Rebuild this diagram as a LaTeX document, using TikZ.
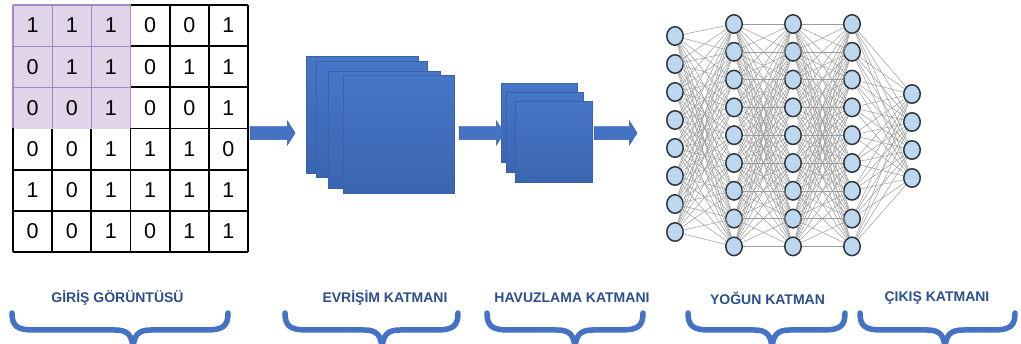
\documentclass[tikz,border=0pt]{standalone}
\usepackage{fontspec}
\setmainfont{Liberation Sans}
\usetikzlibrary{shapes.geometric,shapes.arrows}
\definecolor{boxblue}{HTML}{4472C4}
\definecolor{boxedge}{HTML}{3A62A8}
\definecolor{maptop}{HTML}{4676C6}
\definecolor{mapbot}{HTML}{3B65B0}
\definecolor{gridfill}{HTML}{E0D4E8}
\definecolor{gridline}{HTML}{A888C2}
\definecolor{nodefill}{HTML}{BDD7EE}
\definecolor{nodeedge}{HTML}{2E343C}
\definecolor{linkgray}{HTML}{9C9C9C}
\definecolor{capblue}{HTML}{2B4F8E}

\begin{document}
\begin{tikzpicture}[x=1pt,y=-1pt,
  digit/.style={font=\fontsize{21.5}{21.5}\selectfont,inner sep=0pt},
  map/.style={draw=boxedge,line width=0.6pt,top color=maptop,bottom color=mapbot,anchor=north west,inner sep=0pt},
  blockarrow/.style={single arrow,fill=boxblue,draw=boxedge,line width=0.4pt,inner sep=6.5pt,minimum width=24,single arrow head extend=5.5pt,single arrow tip angle=115},
  neuron/.style={ellipse,draw=nodeedge,line width=1.5pt,fill=nodefill,minimum width=16.5,minimum height=18.5,inner sep=0pt},
  link/.style={draw=linkgray,line width=0.5pt},
  caption/.style={font=\fontsize{14}{14}\selectfont\bfseries,text=capblue,inner sep=0pt},
  brace/.style={draw=boxblue,line width=5.5pt,line cap=round,line join=round}]
\clip (0,0) rectangle (1021,344);
\useasboundingbox (0,0) rectangle (1021,344);

% input image
\fill[gridfill] (13,5) rectangle (130.5,128.5);
\foreach \i in {0,...,6} {
  \draw[line width=1.8pt] (13+39.17*\i,5) -- (13+39.17*\i,252);
  \draw[line width=1.8pt] (13,5+41.17*\i) -- (248,5+41.17*\i);
}
\fill[gridfill] (14,6) rectangle (130,129.5);
\foreach \i in {0,...,3} {
  \draw[gridline,line width=1.3pt] (13+39.17*\i,5) -- (13+39.17*\i,128.5);
}
\foreach \i in {0,...,2} {
  \draw[gridline,line width=1.3pt] (13,5+41.17*\i) -- (130.5,5+41.17*\i);
}
\foreach \row [count=\r] in {{1,1,1,0,0,1},{0,1,1,0,1,1},{0,0,1,0,0,1},{0,0,1,1,1,0},{1,0,1,1,1,1},{0,0,1,0,1,1}} {
  \foreach \v [count=\c] in \row {
    \node[digit] (d-\r-\c) at (13+39.17*\c-19.6,5+41.17*\r-20.6) {\v};
  }
}

% feature maps
\node[map,minimum width=112,minimum height=117] (conv1) at (306,56) {};
\node[map,minimum width=111,minimum height=116] (conv2) at (316,61) {};
\node[map,minimum width=112,minimum height=117] (conv3) at (328,71) {};
\node[map,minimum width=111,minimum height=118] (conv4) at (343,75) {};
\node[map,minimum width=76,minimum height=79] (pool1) at (501,83) {};
\node[map,minimum width=77,minimum height=80] (pool2) at (506,92) {};
\node[map,minimum width=77,minimum height=81] (pool3) at (515,101) {};

\node[blockarrow,minimum height=45] (arr1) at (270.5,133) {};
\node[blockarrow,minimum height=45] (arr2) at (479.5,133) {};
\node[blockarrow,minimum height=43] (arr3) at (613.5,133) {};

% dense network
\foreach \i in {1,...,8} \node[neuron] (a\i) at (675,36+28*\i-28) {};
\foreach \i in {1,...,9} {
  \node[neuron] (b\i) at (734,24+27.8*\i-27.8) {};
  \node[neuron] (c\i) at (793,24+27.8*\i-27.8) {};
  \node[neuron] (e\i) at (852,24+27.8*\i-27.8) {};
}
\foreach \i in {1,...,4} \node[neuron] (f\i) at (912,94+28*\i-28) {};
\foreach \i in {1,...,8} \foreach \j in {1,...,9} \draw[link] (a\i) -- (b\j);
\foreach \i in {1,...,9} \foreach \j in {1,...,9} {
  \draw[link] (b\i) -- (c\j);
  \draw[link] (c\i) -- (e\j);
}
\foreach \i in {1,...,9} \foreach \j in {1,...,4} \draw[link] (e\i) -- (f\j);

% captions
\node[caption] (cap1) at (117.5,298) {GİRİŞ GÖRÜNTÜSÜ};
\node[caption] (cap2) at (385,298) {EVRİŞİM KATMANI};
\node[caption] (cap3) at (572,298) {HAVUZLAMA KATMANI};
\node[caption] (cap4) at (767.5,298) {YOĞUN KATMAN};
\node[caption] (cap5) at (937,298) {ÇIKIŞ KATMANI};
\foreach \l/\m/\r in {12/133/228,285/382/458,487/575/643,688/772/845,860/945/1015} {
  \draw[brace] (\l,313) .. controls (\l,326) and (\l+5,330) .. (\l+22,330) -- (\m-18,330)
    .. controls (\m-5,330) and (\m,335) .. (\m,352);
  \draw[brace] (\r,313) .. controls (\r,326) and (\r-5,330) .. (\r-22,330) -- (\m+18,330)
    .. controls (\m+5,330) and (\m,335) .. (\m,352);
}
\end{tikzpicture}
\end{document}
